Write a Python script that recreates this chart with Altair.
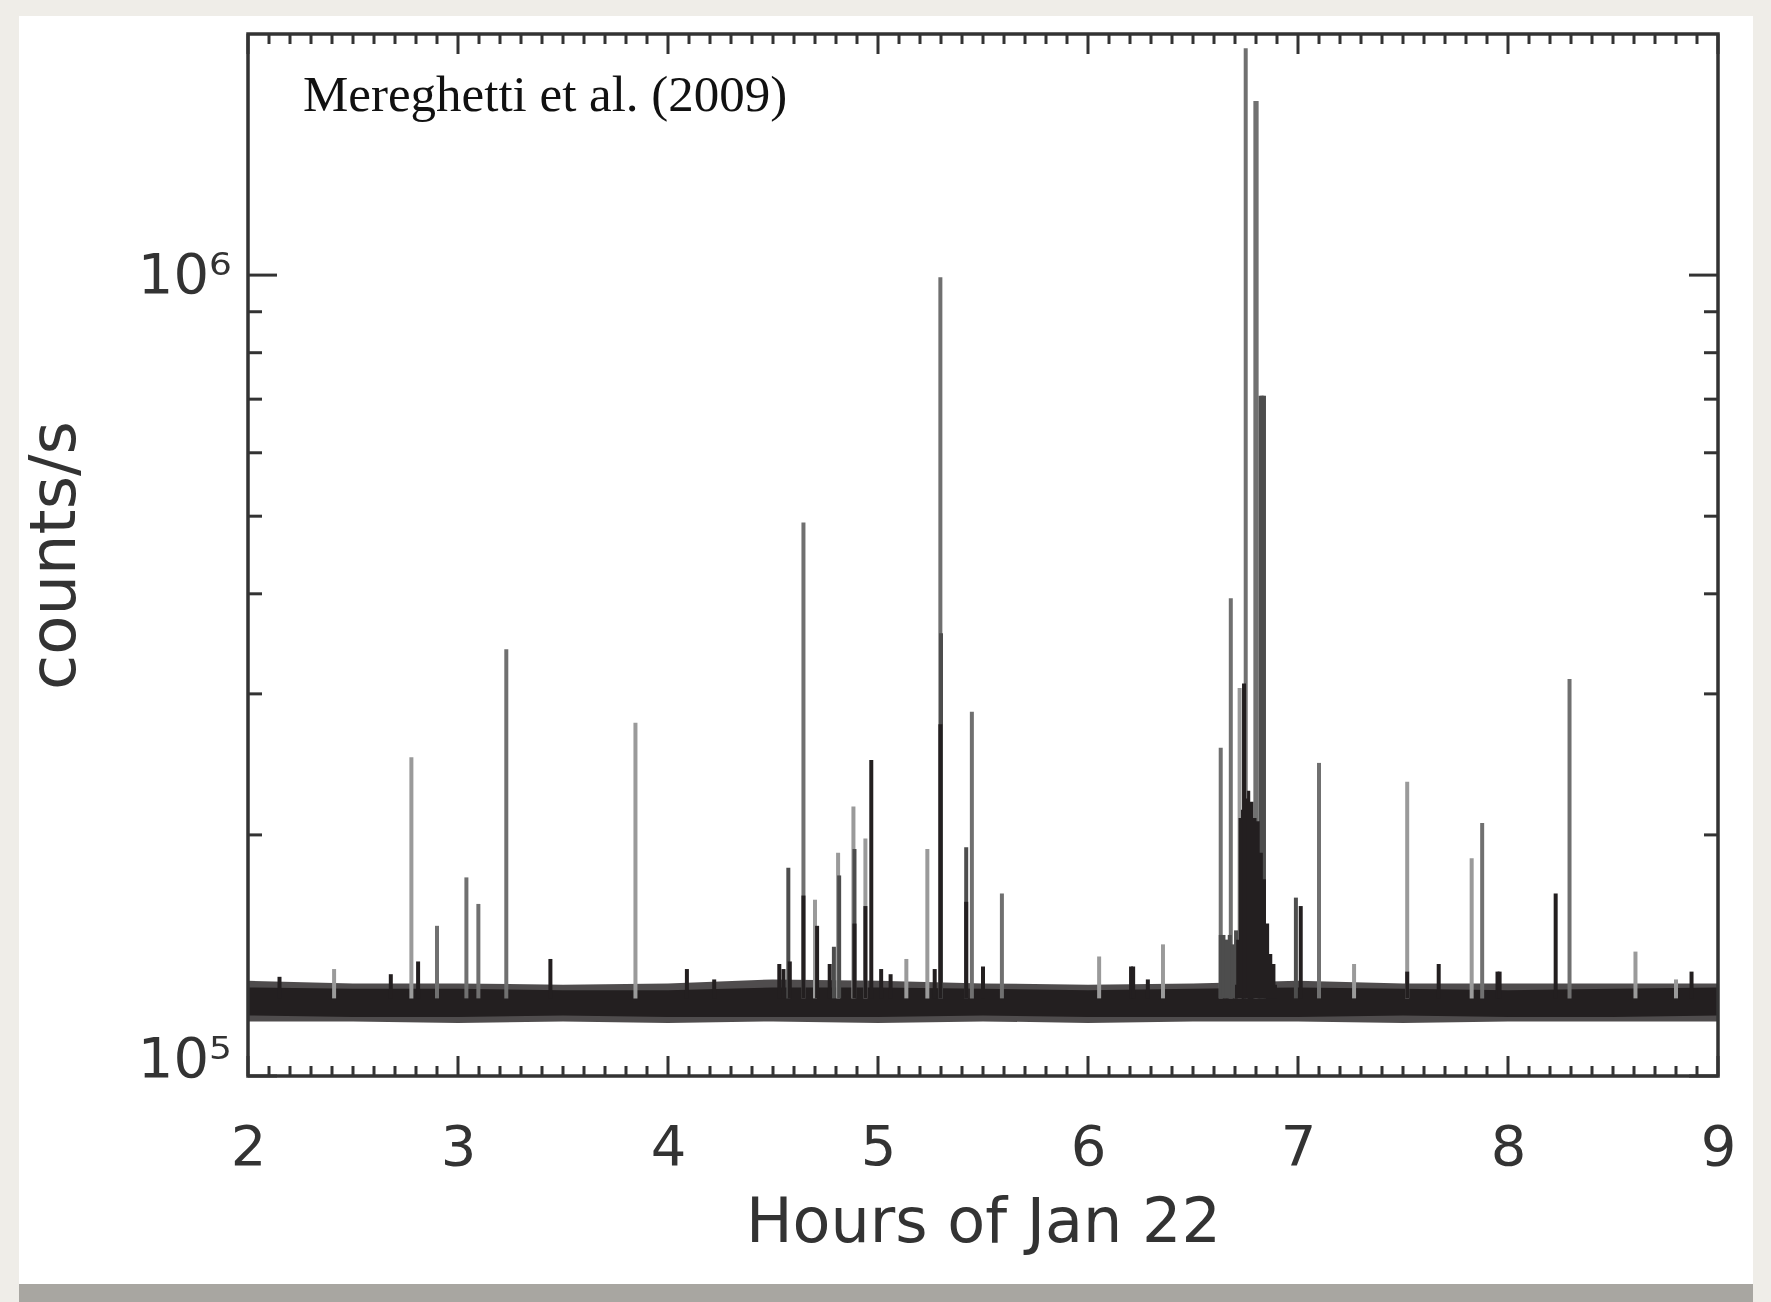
import altair as alt
import pandas as pd

# ---------------- data ----------------
x_major_ticks = [2, 3, 4, 5, 6, 7, 8, 9]
y_major_ticks = [100000, 1000000]
y_tick_labels = ["10⁵", "10⁶"]
y_minor_ticks = [200000, 300000, 400000, 500000, 600000, 700000, 800000, 900000]

x_title = "Hours of Jan 22"
y_title = "counts/s"
annotation = "Mereghetti et al. (2009)"

# dense background band (envelope of the noisy light curve)
band_hour = [2.0, 2.5, 3.0, 3.5, 4.0, 4.5, 5.0, 5.5, 6.0, 6.5, 7.0, 7.5, 8.0, 8.5, 9.0]
core_top = [129000, 128500, 128500, 128000, 128000, 129000, 129000, 128500,
            128000, 128500, 129000, 128500, 128000, 128500, 129000]
core_bottom = [119000, 118500, 118500, 119000, 118500, 118500, 118500, 119000,
               118500, 118500, 118500, 119000, 118500, 118500, 119000]
fuzz_top = [131500, 130500, 130500, 130000, 130500, 132000, 131500, 130500,
            130000, 130500, 131500, 130500, 130500, 130500, 130500]
fuzz_bottom = [117000, 117000, 116500, 117000, 116500, 117000, 116500, 117000,
               116500, 117000, 117000, 116500, 117000, 117000, 117000]

# bursts (spikes): light grey, mid grey, dark grey and black groups
gray_hour = [2.41, 2.778, 3.845, 4.70, 4.81, 4.883, 4.94, 5.135, 5.235, 6.053,
             6.357, 6.722, 7.267, 7.52, 7.827, 8.607, 8.80]
gray_peak = [136000, 250000, 276000, 166000, 190000, 217000, 198000, 140000,
             192000, 141000, 146000, 305000, 138000, 233000, 187000, 143000, 132000]

mid_hour = [2.90, 3.04, 3.097, 3.23, 4.645, 5.297, 5.447, 5.59, 6.632, 6.68,
            6.751, 6.797, 6.803, 7.10, 7.877, 8.293]
mid_peak = [154000, 177000, 164000, 341000, 491000, 994000, 285000, 169000,
            257000, 395000, 1920000, 1650000, 1650000, 246000, 207000, 313000]

dark_hour = [4.573, 4.79, 4.815, 4.888, 5.30, 5.42, 6.632, 6.645, 6.66, 6.675,
             6.69, 6.705, 6.822, 6.830, 6.838, 6.99]
dark_peak = [182000, 145000, 178000, 192000, 357000, 193000, 150000, 150000,
             148000, 150000, 146000, 152000, 707000, 707000, 707000, 167000]

black_hour = [2.15, 2.68, 2.81, 3.44, 4.09, 4.22, 4.53, 4.55, 4.58, 4.645, 4.71,
              4.77, 4.888, 4.94, 4.968, 5.015, 5.06, 5.27, 5.297, 5.42, 5.50,
              6.205, 6.215, 6.285, 6.743, 7.013, 7.52, 7.67, 7.95, 7.96, 8.227, 8.874]
black_peak = [133000, 134000, 139000, 140000, 136000, 132000, 138000, 136000,
              139000, 168000, 154000, 138000, 155000, 163000, 248000, 136000,
              134000, 136000, 275000, 165000, 137000, 137000, 137000, 132000,
              309000, 163000, 135000, 138000, 135000, 135000, 169000, 135000]

# main burst: dense black region
burst_hour = [6.70, 6.712, 6.722, 6.735, 6.75, 6.765, 6.78, 6.795, 6.81, 6.825,
              6.84, 6.855, 6.87, 6.885, 6.90]
burst_top = [130000, 148000, 210000, 215000, 222000, 227000, 220000, 210000,
             208000, 190000, 176000, 155000, 142000, 138000, 130000]
SPIKE_BASE = 125000

# ---------------- chart ----------------
W, H = 1470, 1042
INK = "#231f20"
AXC = "#333333"
TXT = "#333333"
SANS = "DejaVu Sans"

xs = alt.Scale(domain=[2, 9], nice=False, zero=False)
ys = alt.Scale(type="log", domain=[100000, 2000000], nice=False)

label_expr = "datum.value < 500000 ? '%s' : '%s'" % (y_tick_labels[0], y_tick_labels[1])

X_AX = alt.Axis(
    values=x_major_ticks, format="d", title=x_title, tickSize=0, domain=False,
    grid=False, labelFlush=False, labelOverlap=False, zindex=2,
    labelFont=SANS, labelFontSize=56, labelColor=TXT, labelPadding=44,
    titleFont=SANS, titleFontSize=62, titleFontWeight="normal",
    titleColor=TXT, titlePadding=17)
Y_AX = alt.Axis(
    values=y_major_ticks, labelExpr=label_expr, title=y_title, tickSize=0,
    domain=False, grid=False, labelFlush=True, labelFlushOffset=12,
    labelOverlap=False, zindex=2,
    labelFont=SANS, labelFontSize=56, labelColor=TXT, labelPadding=17,
    titleFont=SANS, titleFontSize=64, titleFontWeight="normal",
    titleColor=TXT, titlePadding=50)


def X(field):
    return alt.X(field + ":Q", scale=xs, axis=X_AX)


def Y(field):
    return alt.Y(field + ":Q", scale=ys, axis=Y_AX)


one = pd.DataFrame({"k": [0]})

card = alt.Chart(one).mark_rect(fill="#ffffff", clip=False).encode(
    x=alt.value(-229), x2=alt.value(W + 35), y=alt.value(-18), y2=alt.value(H + 208))
shadow = alt.Chart(one).mark_rect(fill="#a8a6a1", clip=False).encode(
    x=alt.value(-229), x2=alt.value(W + 35), y=alt.value(H + 208), y2=alt.value(H + 226))

band_df = pd.DataFrame({"hour": band_hour, "ct": core_top, "cb": core_bottom,
                        "ft": fuzz_top, "fb": fuzz_bottom})

fuzz = alt.Chart(band_df).mark_area(color=INK, opacity=0.8, clip=True).encode(
    x=X("hour"), y=Y("ft"), y2="fb:Q")
core = alt.Chart(band_df).mark_area(color=INK, clip=True).encode(
    x=X("hour"), y=Y("ct"), y2="cb:Q")


def spikes(hours, peaks, color, width):
    df = pd.DataFrame({"hour": hours, "peak": peaks, "base": [SPIKE_BASE] * len(hours)})
    return alt.Chart(df).mark_rule(color=color, strokeWidth=width, clip=True).encode(
        x=X("hour"), y=Y("peak"), y2="base:Q")


burst_df = pd.DataFrame({"hour": burst_hour, "top": burst_top,
                         "base": [SPIKE_BASE] * len(burst_hour)})
burst = alt.Chart(burst_df).mark_area(color=INK, clip=True, interpolate="step").encode(
    x=X("hour"), y=Y("top"), y2="base:Q")

# ticks on all four sides, pointing inward
x_minor = [round(2 + i * 0.1, 1) for i in range(71) if i % 10 != 0]
xmaj_df = pd.DataFrame({"hour": x_major_ticks})
xmin_df = pd.DataFrame({"hour": x_minor})
ymaj_df = pd.DataFrame({"v": y_major_ticks})
ymin_df = pd.DataFrame({"v": y_minor_ticks})


def xtick(df, y0, y1):
    return alt.Chart(df).mark_rule(color=AXC, strokeWidth=3).encode(
        x=X("hour"), y=alt.value(y0), y2=alt.value(y1))


def ytick(df, x0, x1):
    return alt.Chart(df).mark_rule(color=AXC, strokeWidth=3).encode(
        y=Y("v"), x=alt.value(x0), x2=alt.value(x1))


ticks = [
    xtick(xmaj_df, H, H - 20), xtick(xmaj_df, 0, 20),
    xtick(xmin_df, H, H - 10), xtick(xmin_df, 0, 10),
    ytick(ymaj_df, 0, 29), ytick(ymaj_df, W, W - 29),
    ytick(ymin_df, 0, 14), ytick(ymin_df, W, W - 14),
]

frame = alt.Chart(one).mark_rect(fillOpacity=0, stroke=AXC, strokeWidth=3.5).encode(
    x=alt.value(0), x2=alt.value(W), y=alt.value(0), y2=alt.value(H))

note = alt.Chart(pd.DataFrame({"t": [annotation]})).mark_text(
    font="Liberation Serif", fontSize=51, color="#111111", align="left",
    baseline="alphabetic").encode(text="t:N", x=alt.value(55), y=alt.value(77))

layers = [card, shadow, fuzz, core,
          spikes(gray_hour, gray_peak, "#9a9a9a", 4),
          spikes(mid_hour, mid_peak, "#707070", 4),
          spikes(dark_hour, dark_peak, "#4d4d4d", 4),
          burst,
          spikes(black_hour, black_peak, INK, 4)] + ticks + [frame, note]

chart = alt.layer(*layers).properties(
    width=W, height=H,
    autosize=alt.AutoSizeParams(type="none"),
    padding={"left": 248, "top": 34, "right": 53, "bottom": 226},
    background="#efede8",
).configure_view(stroke=None)

chart.save("out.html", embed_options={"renderer": "svg", "actions": False})
